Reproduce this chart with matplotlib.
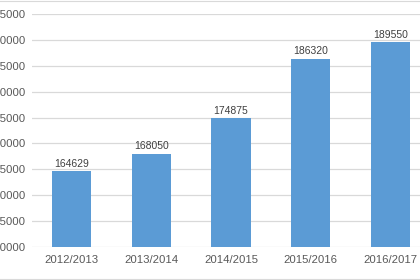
import matplotlib
matplotlib.use("Agg")
import matplotlib.pyplot as plt
from matplotlib.lines import Line2D

seasons = ["2012/2013", "2013/2014", "2014/2015", "2015/2016", "2016/2017"]
values = [164629, 168050, 174875, 186320, 189550]
y_ticks = list(range(150000, 200000, 5000))

plt.rcParams["font.family"] = ["Liberation Sans", "DejaVu Sans"]

fig = plt.figure(figsize=(4.2, 2.8), dpi=100)
ax = fig.add_axes([0.075, 0.118, 0.95, 0.832])

x = range(len(seasons))
bars = ax.bar(x, values, width=0.49, color="#5B9BD5", zorder=3)
for b, v in zip(bars, values):
    ax.text(b.get_x() + b.get_width() / 2, v + 500, str(v),
            ha="center", va="bottom", fontsize=7.5, color="#404040")

ax.set_xlim(-0.5, len(seasons) - 0.5)
ax.set_ylim(150000, 195000)
ax.set_yticks(y_ticks)
ax.set_yticklabels([str(t) for t in y_ticks])
ax.set_xticks(list(x))
ax.set_xticklabels(seasons)
ax.tick_params(axis="both", length=0, labelsize=8.2, labelcolor="#595959")
ax.tick_params(axis="x", pad=6)
ax.tick_params(axis="y", pad=4.5)
ax.grid(axis="y", color="#D9D9D9", linewidth=0.9, zorder=0)
for s in ax.spines.values():
    s.set_visible(False)

# light chart border at top and bottom
fig.add_artist(Line2D([0, 1], [0.997, 0.997], color="#D9D9D9", linewidth=0.8))
fig.add_artist(Line2D([0, 1], [0.004, 0.004], color="#D9D9D9", linewidth=0.8))

fig.savefig("out.png", dpi=100)
